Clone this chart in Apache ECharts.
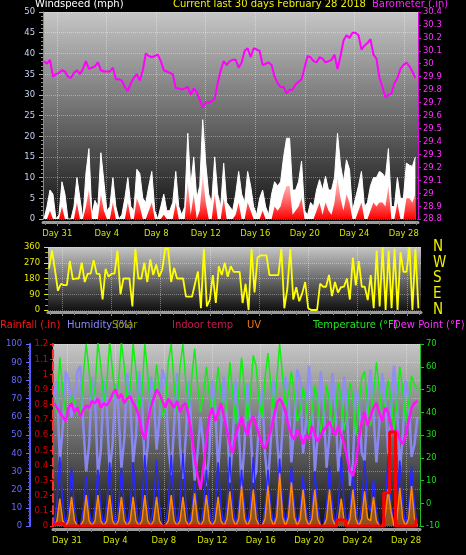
<!DOCTYPE html>
<html>
<head>
<meta charset="utf-8">
<title>Weather - last 30 days</title>
<script src="https://cdn.jsdelivr.net/npm/echarts@6.0.0/dist/echarts.min.js"></script>
<style>
  html, body { margin: 0; padding: 0; background: #000; }
  #main { width: 466px; height: 555px; }
</style>
</head>
<body>
<div id="main"></div>
<script>
// x unit = days since Jan 31 00:00; one sample every ~5.8 h
var t0 = -1.07, dt = 0.242;

var dayMarks = [0, 4, 8, 12, 16, 20, 24, 28];
var dayNames = ['Day 31', 'Day 4', 'Day 8', 'Day 12', 'Day 16', 'Day 20', 'Day 24', 'Day 28'];
var compass = { 0: 'N', 90: 'E', 180: 'S', 270: 'W', 360: 'N' };

// barometer (in)
var baro = [30.02,30.00,30.03,29.90,29.92,29.93,29.95,29.94,29.90,29.89,
  29.93,29.95,29.92,29.96,30.02,29.96,29.97,29.98,30.01,29.95,
  29.94,29.94,29.94,29.97,29.88,29.88,29.87,29.82,29.79,29.85,
  29.89,29.92,29.87,29.95,30.08,30.06,30.05,30.06,30.07,30.02,
  29.95,29.94,29.93,29.92,29.81,29.81,29.80,29.81,29.82,29.76,
  29.81,29.78,29.72,29.66,29.70,29.70,29.71,29.73,29.85,29.95,
  30.02,29.99,30.02,30.03,30.03,29.97,30.01,30.10,30.12,30.05,
  30.12,30.11,30.10,29.99,30.00,30.01,29.99,29.90,29.85,29.82,
  29.82,29.77,29.80,29.80,29.84,29.86,29.88,29.97,30.06,30.05,
  30.02,30.01,30.05,30.04,30.01,30.02,30.03,30.07,29.96,30.06,
  30.18,30.22,30.20,30.24,30.24,30.22,30.11,30.14,30.16,30.19,
  30.07,30.04,29.89,29.82,29.74,29.76,29.77,29.85,29.89,29.96,
  29.99,30.01,29.98,29.94,29.89];

// wind gust (mph)
var gust = [0,3,7,6,0,1,9,6,0,0,
  3,10,5,0,11,17,1,4.5,3,16,
  9,2,3,10,3,0,1,5,10,3,
  2,12,11,5,4,8,11.5,2,0,3,
  6,2,2,4,11.5,3,1,3,20.7,8,
  15,5,8,24,13.5,6,4,15,6,3,
  13.5,4,3,2,6,11.5,6,4,11.5,8,
  3,1,5,7,3,1,6,9,8,9,
  15,19.5,19.5,7,7,9,14,2,1,4,
  3,7,9.5,7,10.3,7,7,10,20.7,13,
  9,14.3,12,2,5,8,11.5,3,4,8,
  10,10,11.5,11,10,17,3,3,10,5,
  5,13.5,13,12.7,15];

// average wind speed (mph)
var windAvg = [0,0,2,0,0,0,3,0,0,0,
  0,4,0,0,3,7,0,0,0,6,
  2,0,0,4,0,0,0,0,4,0,
  0,5,3,0,0,2,4,0,0,0,
  1,0,0,0,4,0,0,0,9,1,
  6,0,2,11,4,0,0,6,0,0,
  5,0,0,0,1,4,0,0,4,2,
  0,0,0,2,0,0,0,3,2,3,
  6,8,8,1,2,3,5,0,0,0,
  0,2,4,1,4,2,1,4,10,5,
  2,6,4,0,0,2,4,0,0,2,
  4,3,4,4,3,8,0,0,4,0,
  0,5,5,4,6];

// wind direction (degrees)
var windDir = [237,340,230,110,150,142,142,280,175,180,
  180,270,160,208,208,285,208,205,60,235,
  190,208,208,340,90,180,180,180,20,350,
  180,180,270,160,290,200,260,190,230,350,
  350,160,240,180,180,180,76,76,76,150,
  220,10,350,20,60,200,40,250,200,270,
  190,250,218,218,218,40,150,0,350,100,
  300,312,312,312,200,199,199,199,350,10,
  120,350,60,130,50,95,160,10,0,0,
  0,150,133,133,200,80,160,100,130,133,
  180,60,300,140,280,133,133,57,200,10,
  340,20,360,0,340,10,350,0,330,218,
  218,360,0,350,10];

// outdoor temperature (F)
var temp = [44,40,64,50,38,40,47,45,39,38,
  56,70,58,44,50,71,60,45,52,71,
  58,46,52,71,60,44,50,70,58,41,
  48,70,57,40,46,61,50,38,42,62,
  70,52,40,60,70,53,42,55,68,52,
  40,48,60,48,38,46,60,48,36,44,
  62,48,35,48,64,50,36,48,65,60,
  44,38,55,66,52,38,54,70,56,42,
  48,58,48,36,40,51,44,30,40,52,
  44,31,40,52,45,33,40,53,46,32,
  40,53,46,30,42,55,58,44,34,48,
  62,50,36,44,54,46,32,44,60,50,
  36,44,56,52,50];

// dew point (F)
var dew = [44,42,40,38,36,42,44,40,42,38,
  41,43,42,45,44,46,42,44,43,45,
  48,50,46,48,44,46,47,44,42,38,
  32,28,36,42,46,50,48,45,42,46,
  44,42,45,40,43,44,38,30,20,12,
  6,16,28,38,42,36,40,44,38,32,
  26,22,30,34,38,33,30,36,38,34,
  30,26,24,28,32,38,44,46,44,40,
  34,30,28,32,30,26,30,28,34,30,
  27,30,32,34,36,32,30,34,30,26,
  20,14,12,18,28,36,40,34,38,42,
  44,40,36,42,40,34,30,32,28,26,
  30,36,42,44,45];

// humidity (%)
var humidity = [72,80,35,55,85,80,60,68,85,88,
  55,30,45,82,70,28,42,80,66,30,
  45,78,64,32,48,84,70,35,50,85,
  72,30,44,82,74,42,60,86,80,45,
  28,56,84,44,26,50,80,50,25,40,
  60,45,22,40,80,66,30,55,82,60,
  24,48,80,55,22,45,78,56,24,30,
  60,75,40,22,48,80,50,28,55,82,
  72,35,55,86,80,40,58,88,70,30,
  50,85,66,32,50,84,66,30,48,82,
  62,22,35,75,70,40,36,68,86,62,
  35,56,84,70,40,65,88,68,30,50,
  80,70,38,45,60];

// solar (drawn on humidity scale)
var solar = [0,12,38,12,0,10,32,10,0,0,
  9,28,9,0,10,31,10,0,11,35,
  11,0,10,32,10,0,11,35,11,0,
  12,39,12,0,12,36,12,0,0,12,
  39,12,0,13,40,13,0,8,24,8,
  0,10,31,10,0,11,35,11,0,12,
  38,12,0,10,31,10,0,12,38,12,
  0,0,10,31,10,0,12,37,12,0,
  11,33,11,0,9,28,9,0,10,30,
  10,0,0,11,33,11,0,12,38,12,
  0,10,30,10,0,12,36,12,8,26,
  8,0,0,12,38,12,0,12,36,12,
  0,11,33,11,0];

// UV (drawn on humidity scale)
var uv = [0,3,15,3,0,3,16,3,0,0,
  3,17,3,0,3,17,3,0,3,17,
  3,0,3,16,3,0,3,16,3,0,
  3,17,3,0,3,16,3,0,0,3,
  17,3,0,3,16,3,0,3,18,3,
  0,3,17,3,0,3,16,3,0,4,
  19,4,0,4,22,4,0,4,20,4,
  0,0,4,22,4,0,5,29,5,0,
  5,24,5,0,4,20,4,0,4,20,
  4,0,0,4,20,4,0,3,15,3,
  0,4,20,4,0,4,19,4,3,16,
  3,0,0,6,20,8,0,4,21,4,
  0,4,22,4,0];

// rainfall (in)
var rain = [0,0.015,0.015,0.015,0,0,0,0,0,0,
  0,0,0,0,0,0,0,0,0,0,
  0,0,0,0,0,0,0,0,0,0,
  0,0,0,0,0,0,0,0,0,0,
  0,0,0,0,0,0,0,0,0,0,
  0,0,0,0,0,0,0,0,0,0,
  0,0,0,0,0,0,0,0,0,0,
  0,0,0,0,0,0,0,0,0,0,
  0,0,0,0,0,0,0,0,0,0,
  0,0,0,0,0,0,0,0.04,0.04,0.04,
  0,0,0,0,0,0,0,0,0,0,
  0,0,0,0.22,0.22,0.62,0.62,0,0,0,
  0,0,0,0,0.04];

// pick a narrow face if one is installed, and size text to the original widths
function hasFont(name) {
    var c = document.createElement('canvas').getContext('2d');
    var s = 'Current last 30 days February';
    c.font = '20px monospace';
    var w0 = c.measureText(s).width;
    c.font = "20px '" + name + "', monospace";
    return c.measureText(s).width !== w0;
}
var FONT = "'Liberation Sans', sans-serif";
['Liberation Sans Narrow', 'DejaVu Sans Condensed'].some(function (f) {
    if (hasFont(f)) { FONT = "'" + f + "', sans-serif"; return true; }
    return false;
});
var scale = (function () {
    var c = document.createElement('canvas').getContext('2d');
    c.font = '12px ' + FONT;
    return Math.min(1, 178 / c.measureText('Current last 30 days February 28 2018').width);
})();
function fs(px) { return Math.round(px * scale * 10) / 10; }

var xMin = -1.15, xMax = 29.15;

var allDays = [];
for (var d = -1; d <= 29; d++) allDays.push(d);

function pairs(arr) {
    return arr.map(function (v, i) { return [t0 + i * dt, v]; });
}

function panelBg() {
    return new echarts.graphic.LinearGradient(0, 0, 0, 1, [
        { offset: 0, color: '#c6c6c6' },
        { offset: 1, color: '#121212' }
    ]);
}

// main day axis of a panel
function dayAxis(gridIndex, showLabels, offset) {
    return {
        type: 'value', gridIndex: gridIndex, min: xMin, max: xMax,
        position: 'bottom', offset: offset,
        axisLine: { show: true, onZero: false, lineStyle: { color: '#9c9c9c', width: 3 } },
        axisTick: { show: true, customValues: dayMarks, length: 4, lineStyle: { color: '#9c9c9c' } },
        axisLabel: {
            show: showLabels, customValues: dayMarks, margin: 7,
            color: '#d4e400', fontSize: fs(11), fontFamily: FONT,
            formatter: function (v) { return dayNames[dayMarks.indexOf(v)]; }
        },
        splitLine: { show: true, lineStyle: { color: 'rgba(255,255,255,0.4)', type: 'dotted' } }
    };
}

// small tick for every day
function minorDayAxis(gridIndex, offset) {
    return {
        type: 'value', gridIndex: gridIndex, min: xMin, max: xMax,
        position: 'bottom', offset: offset,
        axisLine: { show: false, onZero: false },
        axisTick: { show: true, customValues: allDays, length: 3, lineStyle: { color: '#808080' } },
        axisLabel: { show: false },
        splitLine: { show: false }
    };
}

var myChart = echarts.init(document.getElementById('main'));

var labelFont = { fontSize: fs(11), fontFamily: FONT };
var titleFont = fs(13) + 'px ' + FONT;

var option = {
    backgroundColor: '#000',
    animation: false,
    grid: [
        { left: 43, top: 12, width: 375, height: 207, show: true, backgroundColor: panelBg(), borderWidth: 0 },
        { left: 48, top: 247, width: 373, height: 63, show: true, backgroundColor: panelBg(), borderWidth: 0 },
        { left: 53, top: 344, width: 367, height: 182, show: true, backgroundColor: panelBg(), borderWidth: 0 }
    ],
    xAxis: [
        dayAxis(0, true, 3), minorDayAxis(0, 3),
        dayAxis(1, false, 2), minorDayAxis(1, 2),
        dayAxis(2, true, 3), minorDayAxis(2, 3)
    ],
    yAxis: [
        // windspeed
        {
            type: 'value', gridIndex: 0, min: 0, max: 50, interval: 5, position: 'left',
            axisLine: { show: true, onZero: false, lineStyle: { color: '#8a8a8a' } },
            axisTick: { show: true, length: 4, lineStyle: { color: '#b0b0b0' } },
            minorTick: { show: true, splitNumber: 5, length: 2, lineStyle: { color: '#909090' } },
            axisLabel: Object.assign({ color: '#c8d4f4', margin: 8 }, labelFont),
            splitLine: { lineStyle: { color: 'rgba(255,255,255,0.35)', type: 'dotted' } }
        },
        // barometer
        {
            type: 'value', gridIndex: 0, min: 28.8, max: 30.4, interval: 0.1, position: 'right',
            axisLine: { show: true, onZero: false, lineStyle: { color: '#e000e0' } },
            axisTick: { show: true, length: 3, lineStyle: { color: '#e000e0' } },
            axisLabel: Object.assign({ color: '#ff30ff', margin: 5 }, labelFont),
            splitLine: { show: false }
        },
        // wind direction
        {
            type: 'value', gridIndex: 1, min: 0, max: 360, interval: 90, position: 'left',
            axisLine: { show: false, onZero: false },
            axisTick: { show: true, length: 4, lineStyle: { color: '#e8e800' } },
            minorTick: { show: true, splitNumber: 3, length: 3, lineStyle: { color: '#b0b000' } },
            axisLabel: Object.assign({ color: '#e8e800', margin: 8 }, labelFont),
            splitLine: { lineStyle: { color: 'rgba(255,255,255,0.35)', type: 'dotted' } }
        },
        {
            type: 'value', gridIndex: 1, min: 0, max: 360, interval: 90, position: 'right',
            axisLine: { show: false, onZero: false }, axisTick: { show: false }, splitLine: { show: false },
            axisLabel: {
                color: '#f0f000', fontSize: 15, fontFamily: FONT, margin: 12,
                formatter: function (v) { return compass[v]; }
            }
        },
        // humidity
        {
            type: 'value', gridIndex: 2, min: 0, max: 100, interval: 10, position: 'left', offset: 23,
            axisLine: { show: true, onZero: false, lineStyle: { color: '#5a5aff', width: 2 } },
            axisTick: { show: true, length: 4, lineStyle: { color: '#6a6aff' } },
            minorTick: { show: true, splitNumber: 5, length: 2, lineStyle: { color: '#5050d0' } },
            axisLabel: Object.assign({ color: '#6a6aff', margin: 8 }, labelFont),
            splitLine: { lineStyle: { color: 'rgba(255,255,255,0.35)', type: 'dotted' } }
        },
        // rainfall
        {
            type: 'value', gridIndex: 2, min: 0, max: 1.2, interval: 0.1, position: 'left',
            axisLine: { show: true, onZero: false, lineStyle: { color: '#ff3030', width: 2, type: 'dashed' } },
            axisTick: { show: true, length: 3, lineStyle: { color: '#ff2020' } },
            axisLabel: Object.assign({ color: '#e00000', margin: 5 }, labelFont),
            splitLine: { show: false }
        },
        // temperature / dew point
        {
            type: 'value', gridIndex: 2, min: -10, max: 70, interval: 10, position: 'right',
            axisLine: { show: true, onZero: false, lineStyle: { color: '#20c020' } },
            axisTick: { show: true, length: 4, lineStyle: { color: '#20c020' } },
            axisLabel: Object.assign({ color: '#10e010', margin: 6 }, labelFont),
            splitLine: { show: false }
        }
    ],
    graphic: [
        { type: 'text', left: 35, top: -1, style: { text: 'Windspeed (mph)', fill: '#ffffff', font: titleFont } },
        { type: 'text', left: 173, top: -1, style: { text: 'Current last 30 days February 28 2018', fill: '#f0f000', font: titleFont } },
        { type: 'text', left: 372, top: -1, style: { text: 'Barometer (.in)', fill: '#ff20ff', font: titleFont } },

        { type: 'text', left: 0, top: 320, style: { text: 'Rainfall (.in)', fill: '#ff1010', font: titleFont } },
        { type: 'text', left: 67, top: 320, style: { text: 'Humidity (%)', fill: '#8888ff', font: titleFont } },
        { type: 'text', left: 112, top: 320, style: { text: 'Solar', fill: '#9a9a00', font: titleFont } },
        { type: 'text', left: 172, top: 320, style: { text: 'Indoor temp', fill: '#c81850', font: titleFont } },
        { type: 'text', left: 247, top: 320, style: { text: 'UV', fill: '#e87820', font: titleFont } },
        { type: 'text', left: 313, top: 320, style: { text: 'Temperature (°F)', fill: '#20e020', font: titleFont } },
        { type: 'text', left: 393, top: 320, style: { text: 'Dew Point (°F)', fill: '#ff30ff', font: titleFont } }
    ],
    series: [
        {
            name: 'Wind gust', type: 'line', xAxisIndex: 0, yAxisIndex: 0, data: pairs(gust),
            symbol: 'none', z: 2,
            lineStyle: { color: '#ffffff', width: 1 },
            areaStyle: { color: '#ffffff', opacity: 1 }
        },
        {
            name: 'Wind speed', type: 'line', xAxisIndex: 0, yAxisIndex: 0, data: pairs(windAvg),
            symbol: 'none', z: 3,
            lineStyle: { width: 0 },
            areaStyle: {
                opacity: 1,
                color: new echarts.graphic.LinearGradient(0, 0, 0, 1, [
                    { offset: 0, color: 'rgba(255,60,60,0.15)' },
                    { offset: 1, color: 'rgba(255,0,0,1)' }
                ])
            }
        },
        {
            name: 'Barometer', type: 'line', xAxisIndex: 0, yAxisIndex: 1, data: pairs(baro),
            symbol: 'none', z: 4,
            lineStyle: { color: '#ff00ff', width: 2 }
        },
        {
            name: 'Wind direction', type: 'line', xAxisIndex: 2, yAxisIndex: 2, data: pairs(windDir),
            symbol: 'none',
            lineStyle: { color: '#ffff00', width: 1.8 }
        },
        {
            name: 'Humidity', type: 'line', xAxisIndex: 4, yAxisIndex: 4, data: pairs(humidity),
            symbol: 'none', z: 2,
            lineStyle: { color: '#8c8cff', width: 2.5, opacity: 0.9 }
        },
        {
            name: 'Solar', type: 'line', xAxisIndex: 4, yAxisIndex: 4, data: pairs(solar),
            symbol: 'none', z: 3,
            lineStyle: { color: '#2828ff', width: 1.5 }
        },
        {
            name: 'UV', type: 'line', xAxisIndex: 4, yAxisIndex: 4, data: pairs(uv),
            symbol: 'none', z: 3,
            lineStyle: { color: '#ff8a00', width: 1.5 },
            areaStyle: { color: '#e07a20', opacity: 0.6 }
        },
        {
            name: 'Temperature', type: 'line', xAxisIndex: 4, yAxisIndex: 6, data: pairs(temp),
            symbol: 'none', z: 4,
            lineStyle: { color: '#10f010', width: 1.5 }
        },
        {
            name: 'Dew Point', type: 'line', xAxisIndex: 4, yAxisIndex: 6, data: pairs(dew),
            symbol: 'none', z: 5,
            lineStyle: { color: '#ff10ff', width: 2.5 }
        },
        {
            name: 'Rainfall', type: 'line', xAxisIndex: 4, yAxisIndex: 5, data: pairs(rain),
            symbol: 'none', step: 'middle', z: 6,
            lineStyle: { color: '#ff0000', width: 3 }
        }
    ]
};

window.addEventListener("resize", function () {
    myChart.resize();
});

myChart.setOption(option);
</script>
</body>
</html>
